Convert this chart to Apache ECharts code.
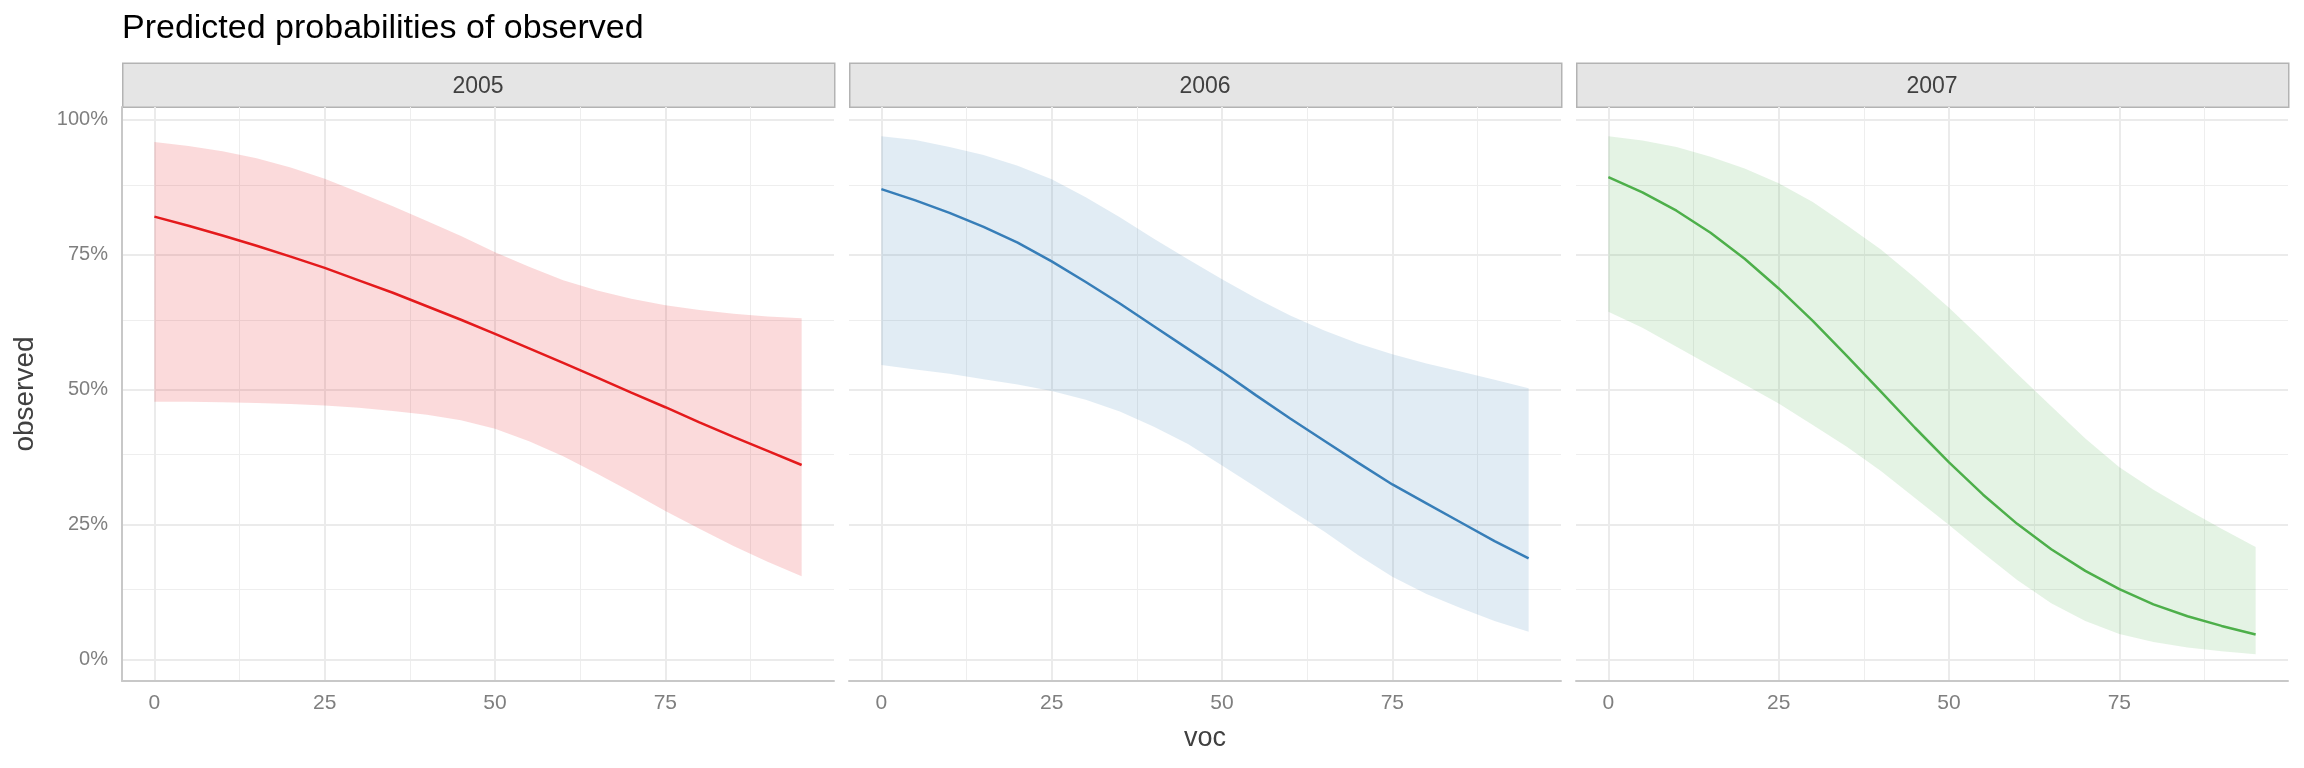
<!DOCTYPE html>
<html>
<head>
<meta charset="utf-8">
<script src="https://cdn.jsdelivr.net/npm/echarts@6/dist/echarts.min.js"></script>
<style>
html,body{margin:0;padding:0;background:#fff;}
#chart{width:2304px;height:768px;}
</style>
</head>
<body>
<div id="chart"></div>
<script>
// ---- data ----
const panels = ['2005', '2006', '2007'];
const voc = [0, 5, 10, 15, 20, 25, 30, 35, 40, 45, 50, 55, 60, 65, 70, 75, 80, 85, 90, 95];

const pred2005 = [0.821,0.804,0.786,0.767,0.747,0.726,0.703,0.680,0.655,0.630,0.604,0.577,0.550,0.523,0.495,0.468,0.440,0.413,0.387,0.361];
const up2005   = [0.959,0.952,0.942,0.929,0.912,0.891,0.866,0.840,0.813,0.785,0.755,0.728,0.703,0.684,0.669,0.657,0.648,0.641,0.636,0.633];
const low2005  = [0.478,0.478,0.477,0.476,0.474,0.471,0.467,0.461,0.454,0.444,0.428,0.405,0.377,0.345,0.311,0.276,0.243,0.211,0.182,0.155];

const pred2006 = [0.872,0.851,0.828,0.802,0.773,0.738,0.700,0.660,0.618,0.576,0.534,0.490,0.447,0.406,0.365,0.325,0.290,0.255,0.220,0.188];
const up2006   = [0.970,0.963,0.950,0.935,0.915,0.890,0.857,0.820,0.780,0.742,0.705,0.670,0.638,0.610,0.586,0.566,0.549,0.534,0.519,0.503];
const low2006  = [0.546,0.538,0.530,0.520,0.510,0.498,0.482,0.460,0.432,0.400,0.360,0.320,0.278,0.238,0.194,0.154,0.122,0.096,0.072,0.052];

const pred2007 = [0.894,0.866,0.832,0.791,0.743,0.688,0.628,0.563,0.497,0.430,0.366,0.306,0.252,0.205,0.165,0.131,0.103,0.081,0.063,0.047];
const up2007   = [0.970,0.962,0.950,0.932,0.910,0.883,0.848,0.805,0.760,0.708,0.652,0.592,0.530,0.470,0.410,0.357,0.315,0.278,0.243,0.209];
const low2007  = [0.645,0.615,0.580,0.545,0.510,0.475,0.435,0.395,0.350,0.300,0.250,0.198,0.148,0.105,0.072,0.048,0.033,0.023,0.016,0.0105];

const xMajorTicks = [0, 25, 50, 75];
const xMinorTicks = [12.5, 37.5, 62.5, 87.5];
const yMajorTicks = [0, 0.25, 0.5, 0.75, 1];
const yMinorTicks = [0.125, 0.375, 0.625, 0.875];

const titleText = 'Predicted probabilities of observed';
const xTitle = 'voc';
const yTitle = 'observed';

// ---- styling / layout ----
const preds = [pred2005, pred2006, pred2007];
const ups = [up2005, up2006, up2007];
const lows = [low2005, low2006, low2007];
const lineColors = ['#e41a1c', '#377eb8', '#4daf4a'];
const bandColors = ['rgba(228,26,28,0.16)', 'rgba(55,126,184,0.15)', 'rgba(77,175,74,0.15)'];
const FONT = '"Liberation Sans", Arial, sans-serif';
const gridLefts = [122, 849, 1576];
const gridTop = 107, gridH = 574, gridW = 712;

const grids = [], xAxes = [], yAxes = [], series = [], graphics = [];

panels.forEach((p, i) => {
  grids.push({left: gridLefts[i], top: gridTop, width: gridW, height: gridH, containLabel: false});
  xAxes.push({
    type: 'value', gridIndex: i, min: -4.75, max: 99.75,
    splitLine: {show: false}, axisTick: {show: false},
    axisLine: {show: true, onZero: false, lineStyle: {color: '#c8c8c8', width: 2}},
    axisLabel: {customValues: xMajorTicks, color: '#7f7f7f', fontSize: 21, margin: 12, fontFamily: FONT}
  });
  yAxes.push({
    type: 'value', gridIndex: i, min: -0.039, max: 1.024,
    splitLine: {show: false}, axisTick: {show: false},
    axisLine: {show: i === 0, onZero: false, lineStyle: {color: '#c8c8c8', width: 2}},
    axisLabel: {show: i === 0, customValues: yMajorTicks, color: '#7f7f7f', fontSize: 20, margin: 14, fontFamily: FONT,
      formatter: v => Math.round(v * 100) + '%'}
  });
  const gl = [];
  xMinorTicks.forEach(v => gl.push({xAxis: v, lineStyle: {width: 1, color: '#eeeeee'}}));
  yMinorTicks.forEach(v => gl.push({yAxis: v, lineStyle: {width: 1, color: '#eeeeee'}}));
  xMajorTicks.forEach(v => gl.push({xAxis: v, lineStyle: {width: 2, color: '#ebebeb'}}));
  yMajorTicks.forEach(v => gl.push({yAxis: v, lineStyle: {width: 2, color: '#ebebeb'}}));

  // carrier of the panel gridlines (invisible line, drawn under everything)
  series.push({
    type: 'line', xAxisIndex: i, yAxisIndex: i, z: 0,
    data: voc.map((x, k) => [x, preds[i][k]]),
    symbol: 'none', silent: true, lineStyle: {opacity: 0},
    markLine: {z: 0, silent: true, symbol: ['none', 'none'], label: {show: false}, animation: false,
      lineStyle: {type: 'solid'}, emphasis: {disabled: true}, data: gl}
  });
  // confidence ribbon
  const lo = lows[i], hi = ups[i], fillC = bandColors[i];
  series.push({
    type: 'custom', xAxisIndex: i, yAxisIndex: i, z: 1, silent: true,
    data: voc.map((x, k) => [x, lo[k], hi[k]]),
    encode: {x: 0, y: [1, 2]},
    renderItem: function (params, api) {
      if (params.dataIndex !== 0) return null;
      const pts = [];
      for (let k = 0; k < voc.length; k++) pts.push(api.coord([voc[k], hi[k]]));
      for (let k = voc.length - 1; k >= 0; k--) pts.push(api.coord([voc[k], lo[k]]));
      return {type: 'polygon', shape: {points: pts}, style: {fill: fillC}};
    }
  });
  // predicted line
  series.push({
    type: 'line', xAxisIndex: i, yAxisIndex: i, z: 3,
    data: voc.map((x, k) => [x, preds[i][k]]),
    symbol: 'none', silent: true, smooth: false,
    lineStyle: {color: lineColors[i], width: 2.5}
  });
  // facet strip
  graphics.push({
    type: 'rect', left: gridLefts[i], top: 62.5, silent: true,
    shape: {x: 0, y: 0, width: gridW, height: 44},
    style: {fill: '#e5e5e5', stroke: '#b3b3b3', lineWidth: 1.5}
  });
  graphics.push({
    type: 'text', x: gridLefts[i] + gridW / 2, y: 87, silent: true,
    style: {text: p, fill: '#404040', font: '23px ' + FONT, align: 'center', verticalAlign: 'middle'}
  });
});

graphics.push({
  type: 'text', x: 122, y: 29, silent: true,
  style: {text: titleText, fill: '#000', font: '34px ' + FONT, align: 'left', verticalAlign: 'middle'}
});
graphics.push({
  type: 'text', x: 1205, y: 739, silent: true,
  style: {text: xTitle, fill: '#404040', font: '27px ' + FONT, align: 'center', verticalAlign: 'middle'}
});
graphics.push({
  type: 'text', x: 25, y: 394, rotation: Math.PI / 2, silent: true,
  style: {text: yTitle, fill: '#404040', font: '28px ' + FONT, align: 'center', verticalAlign: 'middle'}
});

const chart = echarts.init(document.getElementById('chart'), null, {renderer: 'canvas'});
chart.setOption({
  backgroundColor: '#ffffff',
  animation: false,
  grid: grids, xAxis: xAxes, yAxis: yAxes, series: series,
  graphic: {elements: graphics}
});
</script>
</body>
</html>
